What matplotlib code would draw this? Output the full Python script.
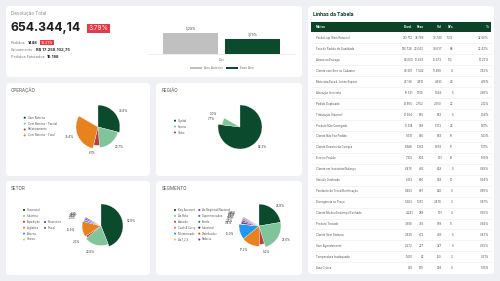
import matplotlib
matplotlib.use("Agg")
import matplotlib.pyplot as plt
from matplotlib.patches import FancyBboxPatch, Rectangle

plt.rcParams['font.family'] = ['Inter', 'DejaVu Sans']

# KPI values
total_dev = "654.344,14"
dev_pct = "3.79%"
pedidos = "1448"
pedidos_pct = "14.21%"
faturamento = "R$ 17.258.102,75"
pedidos_faturados = "10.188"

# Bar chart (ano anterior x esse ano)
bar_series = ["Ano Anterior", "Esse Ano"]
bar_values = [5.28, 3.79]
bar_category = "Dev"

# Pies
op_labels = ["Sem Retorno", "Com Retorno - Parcial", "Refaturamento", "Com Retorno - Total"]
op_values = [34.8, 23.7, 6.1, 35.4]

reg_labels = ["Capital", "Interior", "Outro"]
reg_values = [92.3, 7.7, 0.0]

setor_labels = ["Comercial", "Indústria", "Expedição", "Logística", "Externo", "Outros",
                "Financeiro", "Fiscal"]
setor_values = [52.8, 23.8, 2.3, 15.9, 2.1, 0.3, 1.6, 1.2]

seg_labels = ["Key Account", "Ás Rota", "Atacado", "Cash & Carry", "Minimercado", "Ás 1,2,3",
              "As Regional/Nacional", "Supermercados", "Foods", "Industrial", "Distribuidor", "Padaria"]
seg_values = [26.8, 27.6, 5.2, 17.2, 15.0, 0.4, 2.5, 1.8, 1.0, 0.9, 0.8, 0.8]

# Table
motivos = ["Perda Loja (Sem Retorno)", "Fora do Padrão de Qualidade", "Atraso na Entrega",
           "Cliente com Erro no Cadastro", "Motorista Exced. Limite Espera", "Alocação Incorreta",
           "Pedido Duplicado", "Tributação (Interno)", "Produto Não Carregado", "Cliente Não Fez Pedido",
           "Cliente Desistiu da Compra", "Erro no Pedido", "Cliente em Inventário/Balanço",
           "Veículo Quebrado", "Pendente de Troca/Bonificação", "Divergência no Preço",
           "Cliente Mudou Endereço/Fechado", "Produto Trocado", "Cliente Sem Sistema",
           "Sem Agendamento", "Temperatura Inadequada", "Data Crítica"]
devol = ["213.712", "146.728", "93.050", "48.561", "27.136", "19.521", "13.865", "12.664", "10.514",
         "9.331", "8.588", "7.105", "6.476", "6.152", "5.853", "5.683", "4.241", "3.508", "2.835",
         "2.272", "1.401", "996"]
peso = ["38.766", "23.043", "12.463", "11.542", "3.816", "1.109", "2.752", "675", "939", "650",
        "1.363", "605", "436", "666", "597", "1.251", "288", "365", "472", "227", "82", "149"]
vol = ["39.740", "30.637", "15.473", "10.889", "4.610", "1.549", "2.760", "863", "1.372", "663",
       "1.655", "631", "628", "938", "820", "2.478", "501", "558", "486", "327", "150", "268"]
nfs = ["1032", "88", "102", "4", "24", "5", "22", "5", "24", "19", "16", "13", "5", "14", "9", "3",
       "4", "10", "5", "5", "2", "9"]
pct = ["32.66%", "22.42%", "14.22%", "7.42%", "4.15%", "2.98%", "2.12%", "1.94%", "1.61%", "1.43%",
       "1.31%", "1.09%", "0.99%", "0.94%", "0.89%", "0.87%", "0.65%", "0.54%", "0.43%", "0.35%",
       "0.21%", "0.15%"]

DKGREEN = "#0b4a2c"
LTGREEN = "#80c49b"
RED = "#b8403c"
ORANGE = "#e8821f"
palette = [DKGREEN, LTGREEN, RED, ORANGE, "#2196f3", "#fbc02d", "#9c27b0", "#546e7a",
           "#00897b", "#263238", "#e65100", "#8e24aa"]

W, H = 500, 281
fig = plt.figure(figsize=(5, 2.81), dpi=100, facecolor="#eef0f4")
bg = fig.add_axes([0, 0, 1, 1])
bg.set_xlim(0, W)
bg.set_ylim(H, 0)
bg.axis("off")


def card(x, y, w, h):
    bg.add_patch(FancyBboxPatch((x, y), w, h, boxstyle="round,pad=0,rounding_size=4",
                                facecolor="white", edgecolor="none"))


card(6, 6, 296, 71)
card(6, 83, 144, 93)
card(156, 83, 146, 93)
card(6, 181, 144, 94)
card(156, 181, 146, 94)
card(308, 6, 186, 268)

# KPI text
bg.text(11, 14, "Devolução Total", fontsize=3.3, color="#8a8a8a", va="center")
bg.text(10.5, 28.3, total_dev, fontsize=8.8, fontweight="bold", color="#1c1c1c", va="center")
bg.text(98.5, 28.2, dev_pct, fontsize=4.6, color="white", va="center", ha="center",
        bbox=dict(boxstyle="square,pad=0.25", fc="#e63946", ec="none"))


def kpi_line(y, label, value, badge=None):
    t = bg.text(11, y, label, fontsize=2.7, color="#777", va="center")
    v = bg.annotate(value, xy=(1, 0.5), xycoords=t, xytext=(1.8, 0), textcoords="offset points",
                    fontsize=2.9, color="#222", va="center", fontweight="bold")
    if badge:
        bg.annotate(badge, xy=(1, 0.5), xycoords=v, xytext=(2.2, 0), textcoords="offset points",
                    fontsize=2.7, color="white", va="center",
                    bbox=dict(boxstyle="square,pad=0.2", fc="#e63946", ec="none"))


kpi_line(42.7, "Pedidos", pedidos, pedidos_pct)
kpi_line(50, "Faturamento", faturamento)
kpi_line(57.3, "Pedidos Faturados", pedidos_faturados)

# bar chart
bax = fig.add_axes([148 / W, 1 - 54 / H, 147 / W, 34 / H])
offsets = [-0.211, 0.211]
for off, s, v, c in zip(offsets, bar_series, bar_values, ["#c0c0c0", DKGREEN]):
    bax.bar(off, v, width=0.374, color=c, label=s)
    bax.annotate(f"{v:.2f}%".replace(".", ","), (off, v), xytext=(0, 1.6), textcoords="offset points",
                 ha="center", va="bottom", fontsize=2.3, color="#444")
bax.set_xlim(-0.5, 0.5)
bax.set_ylim(0, 8.55)
bax.set_xticks([0])
bax.set_xticklabels([bar_category], fontsize=2.3, color="#777")
bax.tick_params(axis="x", length=0, pad=3)
bax.set_yticks([])
for sp in ["top", "left", "right"]:
    bax.spines[sp].set_visible(False)
bax.spines["bottom"].set_color("#e6e6e6")
bax.spines["bottom"].set_linewidth(0.5)
bax.set_facecolor("none")
bax.legend(loc="center", bbox_to_anchor=(0.503, -0.41), ncol=2, frameon=False, fontsize=2.3,
           handlelength=3.6, handleheight=0.9, columnspacing=1.2, handletextpad=0.6, labelcolor="#777")

# section titles
for x, y, t in [(11, 90, "OPERAÇÃO"), (162, 90, "REGIÃO"), (11, 188.5, "SETOR"), (162, 188.5, "SEGMENTO")]:
    bg.text(x, y, t, fontsize=3.3, color="#555", va="center")


def legend_items(items, x, y0, colors, step=5.9):
    for i, (lab, c) in enumerate(zip(items, colors)):
        y = y0 + i * step
        bg.scatter([x], [y], s=2.2, color=c, edgecolors="none")
        bg.text(x + 2.8, y, lab, fontsize=2.0, color="#555", va="center")


legend_items(op_labels, 24.7, 117.7, palette)
legend_items(reg_labels, 175, 120.7, palette)
legend_items(setor_labels[:6], 24, 210, palette)
legend_items(setor_labels[6:], 45, 222, palette[6:])
legend_items(seg_labels[:6], 175, 210, palette)
legend_items(seg_labels[6:], 199.3, 210, palette[6:])

SWEEP = 300.0


def draw_pie(cx, cy, values, R=22, half=34):
    ax = fig.add_axes([(cx - half) / W, 1 - (cy + half) / H, 2 * half / W, 2 * half / H])
    total = sum(values)
    fracs = [v / total * SWEEP / 360 for v in values]
    labels = [f"{v / total * 100:.1f}%" for v in values]
    wedges, texts = ax.pie(fracs, colors=palette[:len(values)], startangle=90, counterclock=False,
                           normalize=False, labels=labels, labeldistance=1.2,
                           textprops=dict(fontsize=2.1, color="#333"),
                           wedgeprops=dict(linewidth=0.2, edgecolor="white"))
    vmax = max(values)
    for w, v in zip(wedges, values):
        w.set_radius(0.8 + 0.2 * v / vmax)
    ax.set_xlim(-half / R, half / R)
    ax.set_ylim(-half / R, half / R)
    ax.axis("off")
    return ax


draw_pie(98, 127, op_values)
draw_pie(240, 127, reg_values)
draw_pie(101, 226, setor_values)
draw_pie(259, 226, seg_values)

# table
bg.text(313, 14, "Linhas da Tabela", fontsize=3.6, color="#0d3b24", fontweight="bold", va="center")
bg.add_patch(Rectangle((311, 22), 180, 10, facecolor="#0b4228", edgecolor="none"))
col_x = [413, 424, 442, 453, 489]
headers = ["Devol.", "Peso", "Vol", "NFs", "%"]
bg.text(316, 27, "Motivo", fontsize=2.1, color="white", va="center", fontweight="bold")
for x, h in zip(col_x, headers):
    bg.text(x, 27, h, fontsize=2.1, color="white", va="center", ha="right", fontweight="bold")

row_h = 10.94
for i, m in enumerate(motivos):
    y = 38 + i * row_h
    bg.text(316, y, m, fontsize=2.0, color="#555", va="center")
    for x, col in zip(col_x, [devol, peso, vol, nfs, pct]):
        bg.text(x, y, col[i], fontsize=2.1, color="#555", va="center", ha="right")
    if i < len(motivos) - 1:
        bg.plot([311, 491], [y + row_h / 2, y + row_h / 2], color="#ededed", lw=0.4)

fig.savefig("out.png", dpi=100, facecolor=fig.get_facecolor())
